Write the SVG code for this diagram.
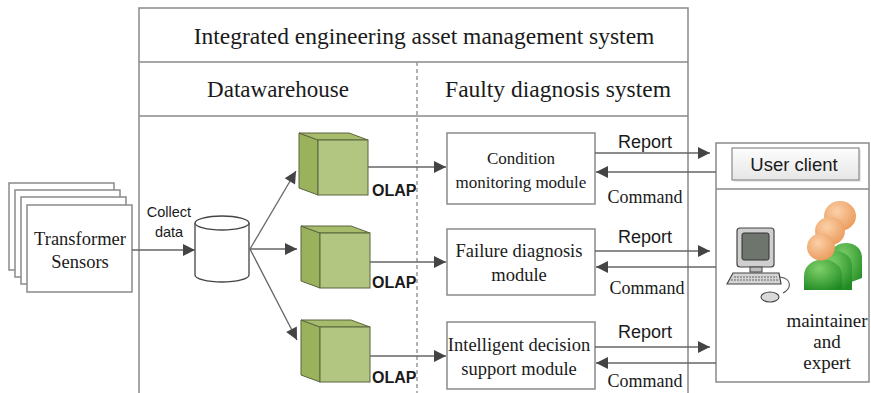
<svg xmlns="http://www.w3.org/2000/svg" width="871" height="393" viewBox="0 0 871 393">
  <defs>
    <style>
      .serif { font-family: "Liberation Serif", "Times New Roman", serif; fill: #1a1a1a; }
      .sans { font-family: "Liberation Sans", Arial, sans-serif; fill: #1a1a1a; }
      .frame { fill: none; stroke: #8a8a8a; stroke-width: 1.5; }
      .box { fill: #ffffff; stroke: #8a8a8a; stroke-width: 1.5; }
      .conn { fill: none; stroke: #666666; stroke-width: 1.3; }
      .cube-front { fill: #b3c681; stroke: #5a6440; stroke-width: 1; }
      .cube-side { fill: #9bb25c; stroke: #5a6440; stroke-width: 1; }
      .cube-top { fill: #a6bc6a; stroke: #5a6440; stroke-width: 1; }
    </style>
    <marker id="arrow" viewBox="0 0 10 10" refX="10" refY="5" markerWidth="16" markerHeight="12" markerUnits="userSpaceOnUse" orient="auto">
      <path d="M0,0 L10,5 L0,10 Z" fill="#444444"/>
    </marker>
    <linearGradient id="btn" x1="0" y1="0" x2="0" y2="1">
      <stop offset="0" stop-color="#fdfdfd"/>
      <stop offset="1" stop-color="#e6e6e6"/>
    </linearGradient>
    <radialGradient id="head" cx="0.4" cy="0.35" r="0.7">
      <stop offset="0" stop-color="#fbd0a8"/>
      <stop offset="1" stop-color="#ea9a5a"/>
    </radialGradient>
    <radialGradient id="body" cx="0.4" cy="0.3" r="0.8">
      <stop offset="0" stop-color="#7fd06a"/>
      <stop offset="1" stop-color="#1f8a22"/>
    </radialGradient>
    <g id="cube">
      <path class="cube-side" d="M0,0 L19,7 L19,62 L0,55 Z"/>
      <path class="cube-top" d="M0,0 L50,0 L69,7 L19,7 Z"/>
      <rect class="cube-front" x="19" y="7" width="50" height="55"/>
    </g>
  </defs>

  <rect width="871" height="393" fill="#ffffff"/>

  <!-- outer system frame -->
  <g id="system-frame">
    <path class="frame" d="M139,393 L139,8 L688,8 L688,393"/>
    <line class="frame" x1="139" y1="62" x2="688" y2="62"/>
    <line class="frame" x1="139" y1="116" x2="688" y2="116"/>
    <line x1="417" y1="62" x2="417" y2="393" stroke="#8a8a8a" stroke-width="1.3" stroke-dasharray="4,3"/>
    <text class="serif" x="424" y="44" font-size="23.5" text-anchor="middle">Integrated engineering asset management system</text>
    <text class="serif" x="278" y="97" font-size="23" text-anchor="middle">Datawarehouse</text>
    <text class="serif" x="558" y="97" font-size="23.5" text-anchor="middle">Faulty diagnosis system</text>
  </g>

  <!-- stacked sensor cards -->
  <g id="sensors">
    <rect class="box" x="9" y="183" width="105" height="87"/>
    <rect class="box" x="15" y="190" width="105" height="87"/>
    <rect class="box" x="21" y="197" width="105" height="87"/>
    <rect class="box" x="27" y="205" width="105" height="87"/>
    <text class="serif" x="80" y="245" font-size="18.5" text-anchor="middle">Transformer</text>
    <text class="serif" x="80" y="268" font-size="18.5" text-anchor="middle">Sensors</text>
  </g>

  <!-- data store -->
  <g id="database">
    <path d="M195,223 L195,275 A27,7 0 0 0 249,275 L249,223" fill="#ffffff" stroke="#444" stroke-width="1.3"/>
    <ellipse cx="222" cy="223" rx="27" ry="7" fill="#ffffff" stroke="#444" stroke-width="1.3"/>
  </g>

  <!-- OLAP cubes -->
  <g id="olap-1">
    <use href="#cube" x="299" y="133"/>
    <text class="sans" x="372" y="196" font-size="16" font-weight="bold">OLAP</text>
  </g>
  <g id="olap-2">
    <use href="#cube" x="301" y="226"/>
    <text class="sans" x="372" y="288" font-size="16" font-weight="bold">OLAP</text>
  </g>
  <g id="olap-3">
    <use href="#cube" x="301" y="320"/>
    <text class="sans" x="372" y="383" font-size="16" font-weight="bold">OLAP</text>
  </g>

  <!-- diagnosis modules -->
  <g id="condition-module">
    <rect class="box" x="447" y="133" width="148" height="71"/>
    <text class="serif" x="521" y="164" font-size="17" text-anchor="middle">Condition</text>
    <text class="serif" x="521" y="188" font-size="17" text-anchor="middle">monitoring module</text>
  </g>
  <g id="failure-module">
    <rect class="box" x="447" y="229" width="148" height="66"/>
    <text class="serif" x="519" y="257" font-size="18.5" text-anchor="middle">Failure diagnosis</text>
    <text class="serif" x="519" y="281" font-size="18.5" text-anchor="middle">module</text>
  </g>
  <g id="decision-module">
    <rect class="box" x="447" y="322" width="148" height="67"/>
    <text class="serif" x="519" y="351" font-size="18.5" text-anchor="middle">Intelligent decision</text>
    <text class="serif" x="519" y="375" font-size="18.5" text-anchor="middle">support module</text>
  </g>

  <!-- user client panel -->
  <g id="user-client">
    <rect class="box" x="716" y="143" width="153" height="239"/>
    <line class="frame" x1="716" y1="189" x2="869" y2="189"/>
    <rect x="734" y="150" width="127" height="32" fill="#d8d8d8" opacity="0.6"/>
    <rect x="732" y="148" width="127" height="32" fill="url(#btn)" stroke="#8a8a8a" stroke-width="1.2"/>
    <text class="sans" x="794" y="171" font-size="18.5" text-anchor="middle">User client</text>

    <!-- workstation -->
    <g id="computer">
      <rect x="737" y="228" width="37" height="39" rx="3" fill="#cfcfcf" stroke="#444" stroke-width="1.2"/>
      <rect x="742" y="233" width="27" height="27" rx="2" fill="#6d756d" stroke="#333" stroke-width="1"/>
      <rect x="750" y="267" width="12" height="5" fill="#bdbdbd" stroke="#444" stroke-width="1"/>
      <path d="M727,284 L733,273 L779,273 L781,284 Z" fill="#d4d4d4" stroke="#444" stroke-width="1.2"/>
      <path d="M734,277 L777,277 M731,280 L779,280" stroke="#666" stroke-width="1" stroke-dasharray="2,1"/>
      <path d="M780,277 C793,279 791,289 783,293" fill="none" stroke="#555" stroke-width="1.1"/>
      <ellipse cx="770" cy="297" rx="9" ry="5" fill="#d9d9d9" stroke="#444" stroke-width="1.1"/>
    </g>

    <!-- people -->
    <g id="people">
      <path d="M830,290 L830,258 C830,238 862,238 862,258 L862,278 Z" fill="url(#body)"/>
      <path d="M818,290 L818,266 C818,246 852,246 852,266 L852,290 Z" fill="url(#body)"/>
      <path d="M804,290 L804,276 C804,254 842,254 842,276 L842,290 Z" fill="url(#body)"/>
      <ellipse cx="840" cy="216" rx="16" ry="15" fill="url(#head)"/>
      <ellipse cx="830" cy="231" rx="15" ry="14" fill="url(#head)"/>
      <ellipse cx="821" cy="247" rx="14" ry="13.5" fill="url(#head)"/>
    </g>

    <text class="serif" x="827" y="327" font-size="19" text-anchor="middle">maintainer</text>
    <text class="serif" x="827" y="348" font-size="19" text-anchor="middle">and</text>
    <text class="serif" x="827" y="369" font-size="19" text-anchor="middle">expert</text>
  </g>

  <!-- connectors -->
  <g id="connectors">
    <line class="conn" x1="132" y1="250" x2="195" y2="250" marker-end="url(#arrow)"/>
    <line class="conn" x1="250" y1="249" x2="296" y2="171" marker-end="url(#arrow)"/>
    <line class="conn" x1="250" y1="249" x2="297" y2="249" marker-end="url(#arrow)"/>
    <line class="conn" x1="250" y1="249" x2="297" y2="340" marker-end="url(#arrow)"/>

    <line class="conn" x1="368" y1="167" x2="446" y2="167" marker-end="url(#arrow)"/>
    <line class="conn" x1="370" y1="262" x2="446" y2="262" marker-end="url(#arrow)"/>
    <line class="conn" x1="370" y1="356" x2="446" y2="356" marker-end="url(#arrow)"/>

    <line class="conn" x1="595" y1="153" x2="710" y2="153" marker-end="url(#arrow)"/>
    <line class="conn" x1="716" y1="172" x2="596" y2="172" marker-end="url(#arrow)"/>
    <line class="conn" x1="595" y1="251" x2="710" y2="251" marker-end="url(#arrow)"/>
    <line class="conn" x1="716" y1="267" x2="596" y2="267" marker-end="url(#arrow)"/>
    <line class="conn" x1="595" y1="347" x2="710" y2="347" marker-end="url(#arrow)"/>
    <line class="conn" x1="716" y1="363" x2="596" y2="363" marker-end="url(#arrow)"/>

    <text class="sans" x="169" y="217" font-size="14.5" text-anchor="middle">Collect</text>
    <text class="sans" x="169" y="237" font-size="14.5" text-anchor="middle">data</text>

    <text class="sans" x="645" y="148" font-size="18" text-anchor="middle">Report</text>
    <text class="serif" x="645" y="203" font-size="18" text-anchor="middle">Command</text>
    <text class="sans" x="645" y="243" font-size="18" text-anchor="middle">Report</text>
    <text class="serif" x="647" y="294" font-size="18" text-anchor="middle">Command</text>
    <text class="sans" x="645" y="338" font-size="18" text-anchor="middle">Report</text>
    <text class="serif" x="645" y="387" font-size="18" text-anchor="middle">Command</text>
  </g>
</svg>
